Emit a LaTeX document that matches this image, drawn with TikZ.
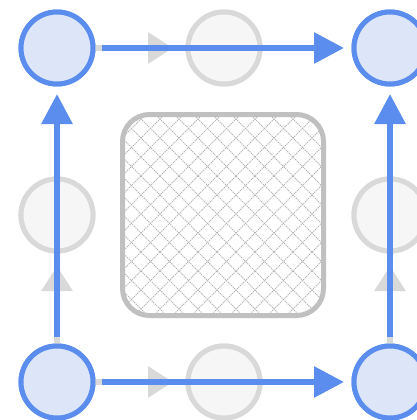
\documentclass[tikz,border=0pt]{standalone}
\usetikzlibrary{arrows.meta}
\definecolor{blu}{HTML}{5B8DEF}
\definecolor{blufill}{HTML}{DDE6F9}
\definecolor{gryline}{HTML}{D9D9D9}
\definecolor{gryfill}{HTML}{F6F6F6}
\definecolor{sqline}{HTML}{C0C0C0}
\definecolor{hatch}{HTML}{B4B4B4}
\begin{document}
\begin{tikzpicture}[x=1pt,y=-1pt,
  bluenode/.style={circle,draw=blu,fill=blufill,line width=5pt,minimum size=72pt,inner sep=0pt,outer sep=0pt},
  graynode/.style={circle,draw=gryline,fill=gryfill,line width=5pt,minimum size=72pt,inner sep=0pt,outer sep=0pt},
  bluearrow/.style={draw=blu,line width=6pt,-{Triangle[length=30pt,width=30pt]},shorten <=9pt,shorten >=10pt},
  grayarrow/.style={draw=gryline,line width=6pt,-{Triangle[length=25pt,width=30pt]},shorten >=15pt},
  hatchline/.style={hatch,line width=0.9pt,dash pattern=on 1.3pt off 0.9pt}]
\useasboundingbox (0,0) rectangle (416,420);
% gray nodes
\node[graynode] (gt) at (224,48) {};
\node[graynode] (gl) at (57,215) {};
\node[graynode] (gr) at (390,215) {};
\node[graynode] (gb) at (224,382) {};
% central hatched square
\begin{scope}
  \clip[rounded corners=27pt] (122.5,114.5) rectangle (323.5,315.5);
  \fill[white] (120,112) rectangle (326,318);
  \foreach \c in {-220,-201,...,580} {
    \draw[hatchline] (\c,100) -- ++(230,230);
    \draw[hatchline] (\c,100) -- ++(-230,230);
  }
\end{scope}
\draw[sqline,line width=5pt,rounded corners=27pt] (122.5,114.5) rectangle (323.5,315.5);
% blue nodes
\node[bluenode] (tl) at (57,48) {};
\node[bluenode] (tr) at (390,48) {};
\node[bluenode] (bl) at (57,382) {};
\node[bluenode] (br) at (390,382) {};
% gray arrows (under the blue ones)
\draw[grayarrow] (tl) -- (gt);
\draw[grayarrow] (bl) -- (gb);
\draw[grayarrow] (bl) -- (gl);
\draw[grayarrow] (br) -- (gr);
% redraw gray nodes over gray arrows
\node[graynode] at (gt) {};
\node[graynode] at (gl) {};
\node[graynode] at (gr) {};
\node[graynode] at (gb) {};
% blue arrows
\draw[bluearrow] (tl) -- (tr);
\draw[bluearrow] (bl) -- (br);
\draw[bluearrow] (bl) -- (tl);
\draw[bluearrow] (br) -- (tr);
% blue nodes on top
\node[bluenode] at (tl) {};
\node[bluenode] at (tr) {};
\node[bluenode] at (bl) {};
\node[bluenode] at (br) {};
\end{tikzpicture}
\end{document}
